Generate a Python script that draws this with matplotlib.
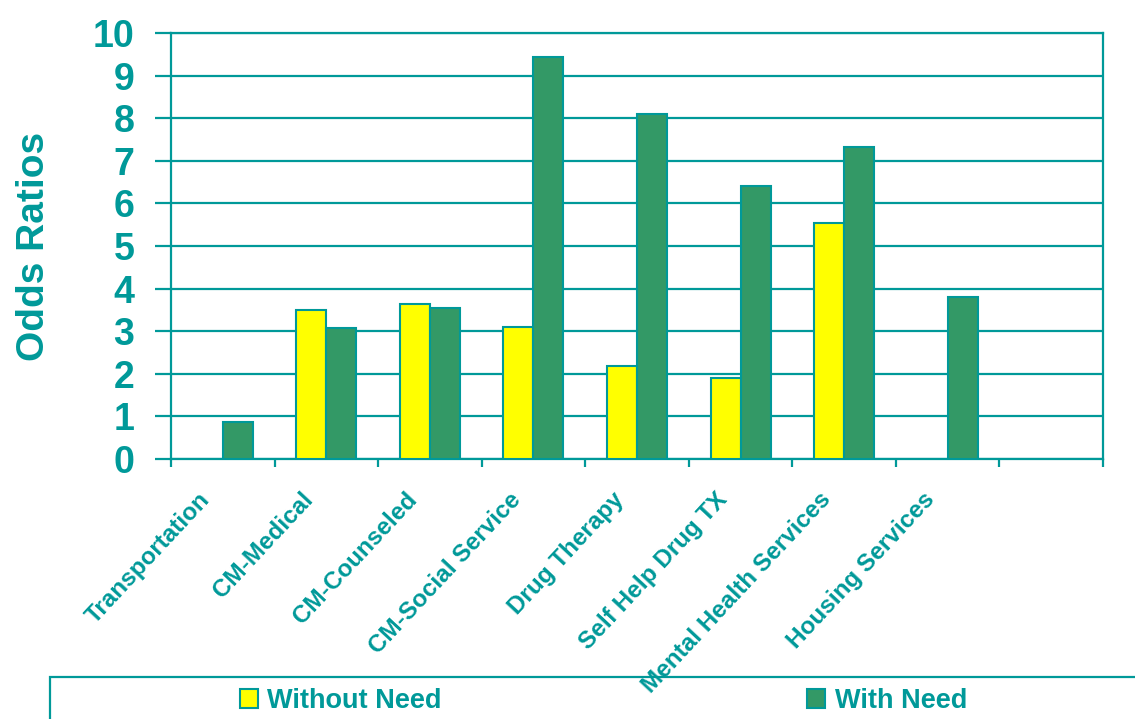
import matplotlib.pyplot as plt
import matplotlib.patches as mpatches
from matplotlib.transforms import ScaledTranslation
import numpy as np

# Odds ratios by service category
categories = ['Transportation', 'CM-Medical', 'CM-Counseled', 'CM-Social Service',
              'Drug Therapy', 'Self Help Drug TX', 'Mental Health Services',
              'Housing Services', '']
without_need = [np.nan, 3.50, 3.64, 3.11, 2.18, 1.89, 5.53, np.nan, np.nan]
with_need = [0.88, 3.07, 3.55, 9.43, 8.11, 6.41, 7.33, 3.80, np.nan]
y_ticks = list(range(0, 11))

teal = '#009999'
yellow = '#FFFF00'
green = '#339966'

plt.rcParams['font.family'] = ['Liberation Sans', 'DejaVu Sans']
plt.rcParams['font.weight'] = 'bold'

fig = plt.figure(figsize=(11.35, 7.19), dpi=100)
ax = fig.add_axes([0.1507, 0.3616, 0.8211, 0.5925])

x = np.arange(len(categories)) + 0.5
width = 0.29

ax.bar(x - width/2, without_need, width, color=yellow, edgecolor=teal, linewidth=1.5,
       label='Without Need', zorder=3)
ax.bar(x + width/2, with_need, width, color=green, edgecolor=teal, linewidth=1.5,
       label='With Need', zorder=3)

ax.set_xlim(0, len(categories))
ax.set_ylim(0, 10)
ax.set_yticks(y_ticks)
ax.grid(axis='y', color=teal, linewidth=1.6, zorder=0)

for s in ax.spines.values():
    s.set_color(teal)
    s.set_linewidth(1.6)

ax.tick_params(axis='y', colors=teal, length=11.5, width=1.6, pad=15, labelsize=27)

# category boundaries as ticks, names on the centres
ax.set_xticks(np.arange(len(categories) + 1))
ax.set_xticklabels([])
ax.tick_params(axis='x', which='major', colors=teal, length=6, width=1.6)
ax.set_xticks(x, minor=True)
ax.set_xticklabels(categories, minor=True, rotation=47, ha='right', va='top',
                   rotation_mode='anchor', color=teal, fontsize=17.5)
ax.tick_params(axis='x', which='minor', length=0, pad=21)
offset = ScaledTranslation(-0.25, 0, fig.dpi_scale_trans)
for lbl in ax.get_xticklabels(minor=True):
    lbl.set_transform(lbl.get_transform() + offset)

ax.set_ylabel('Odds Ratios', color=teal, fontsize=28, fontweight='bold')
ax.yaxis.set_label_coords(-0.128, 0.5)

# legend box running off the figure edge
box = mpatches.Rectangle((50/1135, -0.1), 1.2, 0.1 + 42/719, transform=fig.transFigure,
                         fill=False, edgecolor=teal, linewidth=1.6, clip_on=False)
fig.add_artist(box)
fig.legend(loc='center left', bbox_to_anchor=(240/1135, 1 - 701/719), ncol=2,
           frameon=False, fontsize=19.5, labelcolor=teal, borderpad=0, borderaxespad=0,
           handlelength=0.66, handleheight=0.74, handletextpad=0.35, columnspacing=13.5)

plt.savefig('out.png', dpi=100)
plt.close()
